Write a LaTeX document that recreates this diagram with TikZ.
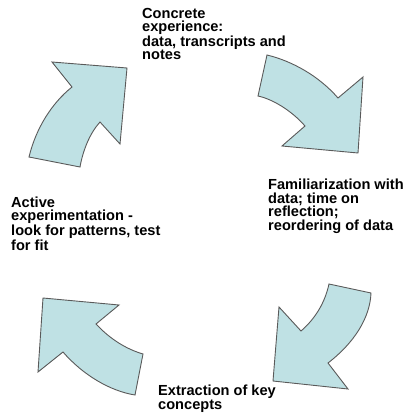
\documentclass[tikz,border=0pt]{standalone}
\usepackage{fontspec}
\setmainfont{Liberation Sans}
\usepackage{tikz}
\usetikzlibrary{positioning}

\definecolor{arrowfill}{HTML}{BFE1E4}
\definecolor{arrowline}{HTML}{5A5A5A}

\begin{document}
\begin{tikzpicture}[
        x=1pt, y=-1pt,
        bentarrow/.style={fill=arrowfill, draw=arrowline, line width=0.9pt, line join=miter},
        stage/.style={anchor=base west, inner sep=0pt, align=left,
            font=\bfseries\fontsize{14.6}{13.4}\selectfont}
    ]
    
    \useasboundingbox (0,0) rectangle (410,417);
    
    % node base sits on the last line
    \node[stage] (concrete) at (142,60) {Concrete\\experience:\\data, transcripts and\\notes};
    \node[stage] (familiar) at (268,230) {Familiarization with\\data; time on\\reflection;\\reordering of data};
    \node[stage] (extract) at (158,409) {Extraction of key\\concepts};
    \node[stage] (active) at (11,250) {Active\\experimentation -\\look for patterns, test\\for fit};
    
    % upper left, pointing up and right
    \draw[bentarrow] (29,157) -- (80,167)
        .. controls (83,150) and (90,133) .. (100,122)
        -- (120,144) -- (127,68) -- (52,62) -- (72,87)
        .. controls (52,103) and (36,128) .. cycle;
    
    % upper right, pointing down and right
    \draw[bentarrow] (267,55) -- (258,96)
        .. controls (272,99) and (291,110) .. (305,126)
        -- (282,146) -- (358,153) -- (363,77) -- (338,98)
        .. controls (319,76) and (292,61) .. cycle;
    
    % lower right, pointing down and left
    \draw[bentarrow] (371,293)
        .. controls (370,318) and (354,343) .. (328,363)
        -- (348,389) -- (273,381) -- (279,307) -- (301,331)
        .. controls (316,318) and (325,302) .. (329,284) -- cycle;
    
    % lower left, pointing up and left
    \draw[bentarrow] (135,395)
        .. controls (110,391) and (83,375) .. (63,352)
        -- (38,372) -- (43,298) -- (119,305) -- (96,324)
        .. controls (110,339) and (126,349) .. (143,354) -- cycle;
    
\end{tikzpicture}
\end{document}
